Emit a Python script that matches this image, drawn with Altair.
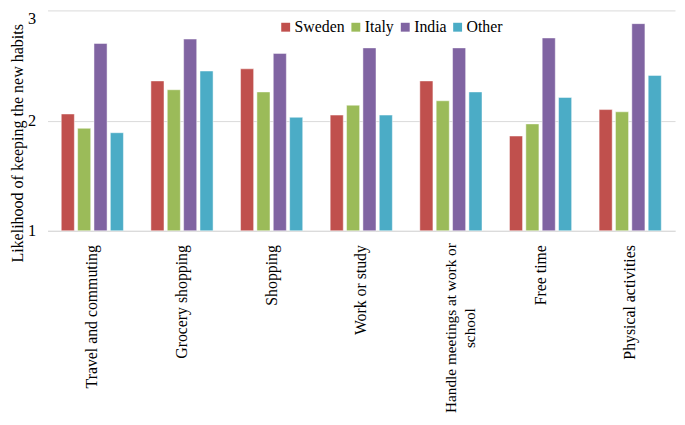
import altair as alt
import pandas as pd

categories = ["Travel and commuting", "Grocery shopping", "Shopping", "Work or study",
              "Handle meetings at work or school", "Free time", "Physical activities"]
countries = ["Sweden", "Italy", "India", "Other"]
sweden = [2.06, 2.36, 2.47, 2.05, 2.36, 1.86, 2.10]
italy = [1.93, 2.28, 2.26, 2.14, 2.18, 1.97, 2.08]
india = [2.70, 2.74, 2.61, 2.66, 2.66, 2.75, 2.88]
other = [1.89, 2.45, 2.03, 2.05, 2.26, 2.21, 2.41]
y_ticks = [1, 2, 3]
colors = ["#C0504D", "#9BBB59", "#8064A2", "#4BACC6"]

series = {"Sweden": sweden, "Italy": italy, "India": india, "Other": other}
rows = []
for c in countries:
    for a, v in zip(categories, series[c]):
        rows.append({"activity": a, "country": c, "value": v})
df = pd.DataFrame(rows)

FONT = "Liberation Serif"
LONG = "Handle meetings at work or school"
test = "datum.value == '" + LONG + "'"

chart = alt.Chart(df).mark_bar(stroke="white", strokeWidth=0.8, strokeOpacity=0.6).encode(
    x=alt.X("activity:N", sort=categories,
            scale=alt.Scale(paddingInner=0.27, paddingOuter=0.135),
            axis=alt.Axis(title=None, labelAngle=-90, ticks=False,
                          labelPadding={"condition": {"test": test, "value": 98}, "value": 14},
                          labelAlign={"condition": {"test": test, "value": "center"}, "value": "right"},
                          labelFontSize={"condition": {"test": test, "value": 15.5}, "value": 16},
                          domainColor="#d9d9d9", labelLineHeight=19,
                          labelLimit=400, labelColor="black", labelFont=FONT,
                          labelExpr="datum.value == '" + LONG + "' ? ['Handle meetings at work or', 'school'] : datum.label")),
    xOffset=alt.XOffset("country:N", sort=countries,
                        scale=alt.Scale(paddingInner=0.2, paddingOuter=0.1)),
    y=alt.Y("value:Q", scale=alt.Scale(domain=[1, 3]),
            axis=alt.Axis(values=y_ticks, labelExpr="format(datum.value, 'd')",
                          title="Likelihood of keeping the new habits",
                          domain=False, ticks=False, gridColor="#d9d9d9",
                          labelFontSize=16.5, titleFontSize=16.2, titleFontWeight="normal",
                          labelPadding=12,
                          labelBaseline={"condition": {"test": "datum.value == 3", "value": "top"}, "value": "middle"},
                          titleX=-30, titleY=134, titleAngle=270,
                          titleAlign="center", titleBaseline="middle",
                          labelColor="black", titleColor="black",
                          labelFont=FONT, titleFont=FONT)),
    y2=alt.datum(1),
    color=alt.Color("country:N", sort=countries,
                    scale=alt.Scale(domain=countries, range=colors),
                    legend=alt.Legend(title=None, orient="none", legendX=233, legendY=9,
                                      direction="horizontal", symbolType="square",
                                      symbolSize=81, labelFontSize=16, columnPadding=3,
                                      labelOffset=1, labelColor="black", labelFont=FONT,
                                      symbolStrokeWidth=0)),
).properties(
    width=635, height=223,
    padding={"left": 40, "top": 0, "right": 2, "bottom": 186},
    autosize=alt.AutoSizeParams(type="none"),
).configure(font=FONT).configure_view(stroke=None)

chart.save("out.html", embed_options={"renderer": "svg", "actions": False})
